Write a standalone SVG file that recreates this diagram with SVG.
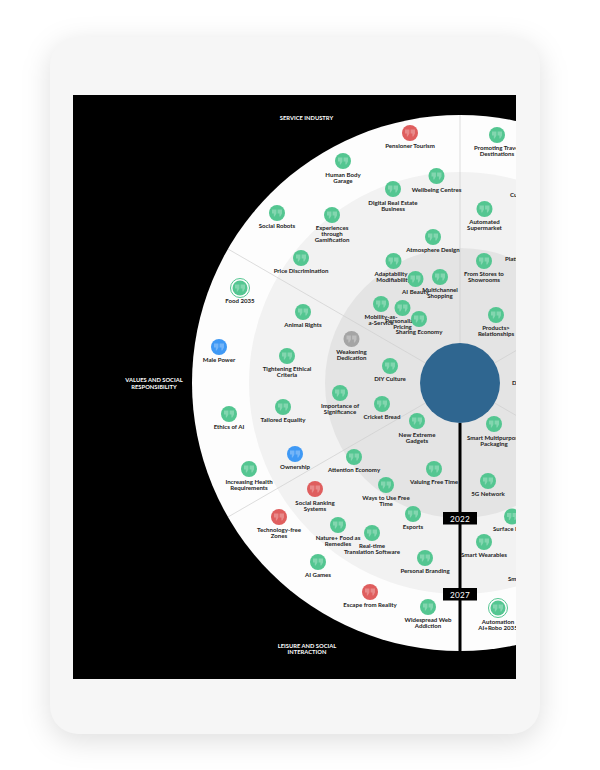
<svg xmlns="http://www.w3.org/2000/svg" width="600" height="770" viewBox="0 0 600 770">
<style>
text{font-family:"Lato","Liberation Sans",sans-serif;font-size:6.1px;font-weight:700;fill:#222;text-anchor:middle}
.cap{fill:#fff;font-size:5.8px}
.yr{fill:#fff;font-size:8.2px;font-weight:400;letter-spacing:.2px}
.st{text-anchor:start}
.g{fill:#54c691}.r{fill:#df5e5e}.b{fill:#3f99f5}.y{fill:#a5a5a5}
.ln{stroke:#cfcfcf;stroke-width:.7;fill:none}
</style>
<defs>
<filter id="sh" x="-20%" y="-20%" width="140%" height="140%"><feGaussianBlur stdDeviation="14"/></filter>
<clipPath id="sc"><rect x="73" y="95" width="443" height="584"/></clipPath>
<path id="q" d="M-5-3.500H-.6V.5L-2.300 3.500H-3.200V.5H-5ZM.6-3.500H5V.5L3.300 3.500H2.400V.5H.6Z" fill="#fff" fill-opacity=".28"/>
</defs>
<rect width="600" height="770" fill="#fff"/>
<rect x="50" y="44" width="490" height="697" rx="28" fill="#000" fill-opacity=".13" filter="url(#sh)"/>
<rect x="50" y="37" width="490" height="697" rx="28" fill="#f6f6f6"/>
<rect x="73" y="95" width="443" height="584" fill="#000"/>
<g clip-path="url(#sc)">
<circle cx="460" cy="383" r="268" fill="#fdfdfd"/>
<circle cx="460" cy="383" r="211" fill="#f2f2f2"/>
<circle cx="460" cy="383" r="135" fill="#e4e4e4"/>
<g id="connectors">
<path class="ln" d="M460 115V343M228 249L425.400 363M228 517L425.400 403M494.600 363L700 244M494.600 403L700 522"/>
<path d="M460 423V651" stroke="#000" stroke-width="3" fill="none"/>
</g>
<circle id="center" cx="460" cy="383" r="40" fill="#2f6690"/>
<g id="year-2022"><rect x="443" y="512" width="34" height="12.500" fill="#000"/><text class="yr" x="460" y="521.500">2022</text></g>
<g id="year-2027"><rect x="443" y="588" width="34" height="12.500" fill="#000"/><text class="yr" x="460" y="597.500">2027</text></g>
<g id="n1"><circle class="r" cx="410" cy="133" r="8"/><use href="#q" x="410" y="133"/><text x="410" y="148">Pensioner Tourism</text></g>
<g id="n2"><circle class="g" cx="343" cy="161" r="8"/><use href="#q" x="343" y="161"/><text x="343" y="177">Human Body</text><text x="343" y="183">Garage</text></g>
<g id="n3"><circle class="g" cx="436.500" cy="176" r="8"/><use href="#q" x="436.500" y="176"/><text x="436.500" y="191.500">Wellbeing Centres</text></g>
<g id="n4"><circle class="g" cx="393" cy="189" r="8"/><use href="#q" x="393" y="189"/><text x="393" y="205">Digital Real Estate</text><text x="393" y="211">Business</text></g>
<g id="n5"><circle class="g" cx="497" cy="135" r="8"/><use href="#q" x="497" y="135"/><text x="497" y="150">Promoting Travel</text><text x="497" y="156">Destinations</text></g>
<g id="n6"><circle class="g" cx="277" cy="213" r="8"/><use href="#q" x="277" y="213"/><text x="277" y="228">Social Robots</text></g>
<g id="n7"><circle class="g" cx="332" cy="215" r="8"/><use href="#q" x="332" y="215"/><text x="332" y="230">Experiences</text><text x="332" y="236">through</text><text x="332" y="242">Gamification</text></g>
<g id="n8"><circle class="g" cx="301" cy="258" r="8"/><use href="#q" x="301" y="258"/><text x="301" y="273">Price Discrimination</text></g>
<g id="n9"><circle class="g" cx="433" cy="237" r="8"/><use href="#q" x="433" y="237"/><text x="433" y="252">Atmosphere Design</text></g>
<g id="n10"><circle class="g" cx="484.500" cy="209" r="8"/><use href="#q" x="484.500" y="209"/><text x="484.500" y="224">Automated</text><text x="484.500" y="230">Supermarket</text></g>
<g id="n11"><circle class="g" cx="393.500" cy="261" r="8"/><use href="#q" x="393.500" y="261"/><text x="393.500" y="276">Adaptability +</text><text x="393.500" y="282">Modifiability</text></g>
<g id="n12"><circle class="g" cx="415.500" cy="279" r="8"/><use href="#q" x="415.500" y="279"/><text x="415.500" y="294">AI Beauty</text></g>
<g id="n13"><circle class="g" cx="440" cy="277" r="8"/><use href="#q" x="440" y="277"/><text x="440" y="292">Multichannel</text><text x="440" y="298">Shopping</text></g>
<g id="n14"><circle class="g" cx="484" cy="261" r="8"/><use href="#q" x="484" y="261"/><text x="484" y="276">From Stores to</text><text x="484" y="282">Showrooms</text></g>
<g id="n15"><circle fill="none" stroke="#54c691" cx="240" cy="288" r="9.500"/><circle class="g" cx="240" cy="288" r="7.500"/><use href="#q" x="240" y="288"/><text x="240" y="303">Food 2035</text></g>
<g id="n16"><circle class="g" cx="303" cy="312" r="8"/><use href="#q" x="303" y="312"/><text x="303" y="327">Animal Rights</text></g>
<g id="n17"><circle class="g" cx="381" cy="304" r="8"/><use href="#q" x="381" y="304"/><text x="381" y="319">Mobility-as-</text><text x="381" y="325">a-Service</text></g>
<g id="n18"><circle class="g" cx="402.500" cy="308" r="8"/><use href="#q" x="402.500" y="308"/><text x="402.500" y="323">Personalized</text><text x="402.500" y="329">Pricing</text></g>
<g id="n19"><circle class="g" cx="419" cy="319" r="8"/><use href="#q" x="419" y="319"/><text x="419" y="334">Sharing Economy</text></g>
<g id="n20"><circle class="g" cx="496" cy="315" r="8"/><use href="#q" x="496" y="315"/><text x="496" y="330">Products&gt;</text><text x="496" y="336">Relationships</text></g>
<g id="n21"><circle class="b" cx="219" cy="347" r="8"/><use href="#q" x="219" y="347"/><text x="219" y="362">Male Power</text></g>
<g id="n22"><circle class="y" cx="351.500" cy="339" r="8"/><use href="#q" x="351.500" y="339"/><text x="351.500" y="354">Weakening</text><text x="351.500" y="360">Dedication</text></g>
<g id="n23"><circle class="g" cx="287" cy="356" r="8"/><use href="#q" x="287" y="356"/><text x="287" y="371">Tightening Ethical</text><text x="287" y="377">Criteria</text></g>
<g id="n24"><circle class="g" cx="390" cy="366" r="8"/><use href="#q" x="390" y="366"/><text x="390" y="381">DIY Culture</text></g>
<g id="n25"><circle class="g" cx="340" cy="393" r="8"/><use href="#q" x="340" y="393"/><text x="340" y="408">Importance of</text><text x="340" y="414">Significance</text></g>
<g id="n26"><circle class="g" cx="382" cy="404" r="8"/><use href="#q" x="382" y="404"/><text x="382" y="419">Cricket Bread</text></g>
<g id="n27"><circle class="g" cx="283" cy="407" r="8"/><use href="#q" x="283" y="407"/><text x="283" y="422">Tailored Equality</text></g>
<g id="n28"><circle class="g" cx="229" cy="414" r="8"/><use href="#q" x="229" y="414"/><text x="229" y="429">Ethics of AI</text></g>
<g id="n29"><circle class="g" cx="417" cy="421" r="8"/><use href="#q" x="417" y="421"/><text x="417" y="437">New Extreme</text><text x="417" y="443">Gadgets</text></g>
<g id="n30"><circle class="g" cx="494" cy="424" r="8"/><use href="#q" x="494" y="424"/><text x="494" y="440">Smart Multipurpose</text><text x="494" y="446">Packaging</text></g>
<g id="n31"><circle class="g" cx="354" cy="457" r="8"/><use href="#q" x="354" y="457"/><text x="354" y="472">Attention Economy</text></g>
<g id="n32"><circle class="b" cx="295" cy="454" r="8"/><use href="#q" x="295" y="454"/><text x="295" y="469">Ownership</text></g>
<g id="n33"><circle class="g" cx="434" cy="469" r="8"/><use href="#q" x="434" y="469"/><text x="434" y="484">Valuing Free Time</text></g>
<g id="n34"><circle class="g" cx="249" cy="469" r="8"/><use href="#q" x="249" y="469"/><text x="249" y="484">Increasing Health</text><text x="249" y="490">Requirements</text></g>
<g id="n35"><circle class="g" cx="488" cy="481" r="8"/><use href="#q" x="488" y="481"/><text x="488" y="496">5G Network</text></g>
<g id="n36"><circle class="r" cx="315" cy="489" r="8"/><use href="#q" x="315" y="489"/><text x="315" y="505">Social Ranking</text><text x="315" y="511">Systems</text></g>
<g id="n37"><circle class="g" cx="386" cy="485" r="8"/><use href="#q" x="386" y="485"/><text x="386" y="500">Ways to Use Free</text><text x="386" y="506">Time</text></g>
<g id="n38"><circle class="g" cx="413" cy="514" r="8"/><use href="#q" x="413" y="514"/><text x="413" y="529">Esports</text></g>
<g id="n39"><circle class="g" cx="512" cy="516.500" r="8"/><use href="#q" x="512" y="516.500"/><text class="st" x="493" y="531">Surface I</text></g>
<g id="n40"><circle class="r" cx="279" cy="517" r="8"/><use href="#q" x="279" y="517"/><text x="279" y="532">Technology-free</text><text x="279" y="538">Zones</text></g>
<g id="n41"><circle class="g" cx="338" cy="525" r="8"/><use href="#q" x="338" y="525"/><text x="338" y="540">Nature+ Food as</text><text x="338" y="546">Remedies</text></g>
<g id="n42"><circle class="g" cx="372" cy="533" r="8"/><use href="#q" x="372" y="533"/><text x="372" y="548">Real-time</text><text x="372" y="554">Translation Software</text></g>
<g id="n43"><circle class="g" cx="484" cy="542" r="8"/><use href="#q" x="484" y="542"/><text x="484" y="557">Smart Wearables</text></g>
<g id="n44"><circle class="g" cx="318" cy="562" r="8"/><use href="#q" x="318" y="562"/><text x="318" y="577">AI Games</text></g>
<g id="n45"><circle class="g" cx="425" cy="558" r="8"/><use href="#q" x="425" y="558"/><text x="425" y="573">Personal Branding</text></g>
<g id="n46"><circle class="r" cx="370" cy="592" r="8"/><use href="#q" x="370" y="592"/><text x="370" y="607">Escape from Reality</text></g>
<g id="n47"><circle class="g" cx="428" cy="607" r="8"/><use href="#q" x="428" y="607"/><text x="428" y="622">Widespread Web</text><text x="428" y="628">Addiction</text></g>
<g id="n48"><circle fill="none" stroke="#54c691" cx="498" cy="608" r="9.500"/><circle class="g" cx="498" cy="608" r="7.500"/><use href="#q" x="498" y="608"/><text x="498" y="624">Automation</text><text x="498" y="630">AI+Robo 2035</text></g>
<text class="st" x="510" y="197">Cu</text>
<text class="st" x="505" y="261">Platf</text>
<text class="st" x="512" y="385">D</text>
<text class="st" x="508" y="581">Sm</text>
<text class="cap" x="306.500" y="120">SERVICE INDUSTRY</text>
<text class="cap" x="154" y="382">VALUES AND SOCIAL</text>
<text class="cap" x="154" y="389">RESPONSIBILITY</text>
<text class="cap" x="307" y="647.500">LEISURE AND SOCIAL</text>
<text class="cap" x="307" y="654">INTERACTION</text>
</g>
</svg>
